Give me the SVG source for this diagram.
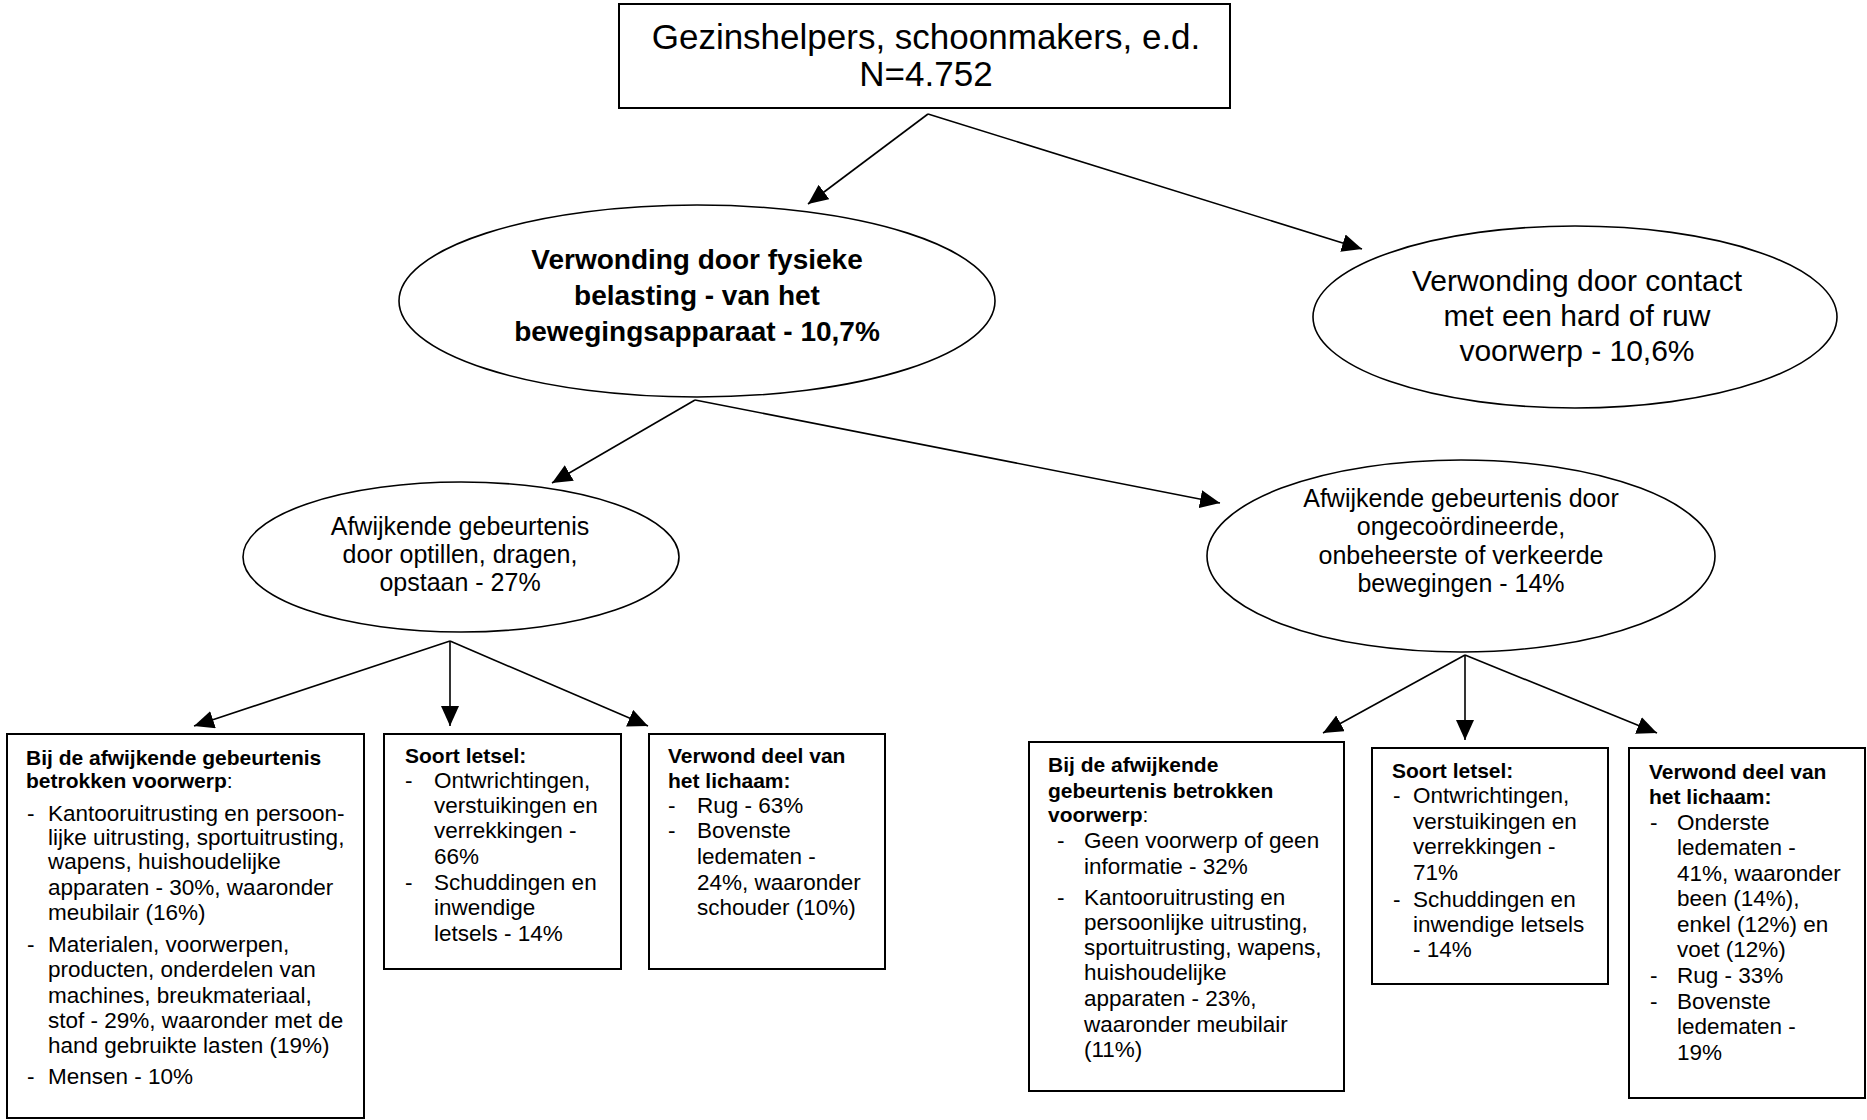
<svg xmlns="http://www.w3.org/2000/svg" width="1867" height="1120" viewBox="0 0 1867 1120">
<defs>
<marker id="ah" markerUnits="userSpaceOnUse" markerWidth="20" markerHeight="18" refX="20" refY="9" orient="auto">
<path d="M0,0 L20,9 L0,18 z" fill="#000"/>
</marker>
<style>
text{font-family:"Liberation Sans",Arial,sans-serif;fill:#000}
.box{fill:#fff;stroke:#000;stroke-width:2}
.ell{fill:#fff;stroke:#000;stroke-width:1.6}
.c{text-anchor:middle}
.t0{font-size:35px}
.t1{font-size:28px;font-weight:bold}
.t2{font-size:30px}
.t3{font-size:25px}
.h{font-size:21px;font-weight:bold}
.i{font-size:22.5px}
.n{font-weight:normal}
#edges line{stroke:#000;stroke-width:1.6;marker-end:url(#ah)}
</style>
</defs>
<rect width="1867" height="1120" fill="#fff"/>

<g id="edges">
<line x1="928" y1="114" x2="808" y2="204"/>
<line x1="928" y1="114" x2="1362" y2="249"/>
<line x1="695" y1="400" x2="552" y2="483"/>
<line x1="695" y1="400" x2="1220" y2="503"/>
<line x1="450" y1="641" x2="194" y2="726"/>
<line x1="450" y1="641" x2="450" y2="726"/>
<line x1="450" y1="641" x2="648" y2="726"/>
<line x1="1465" y1="655" x2="1323" y2="733"/>
<line x1="1465" y1="655" x2="1465" y2="740"/>
<line x1="1465" y1="655" x2="1657" y2="733"/>
</g>

<g id="root">
<rect class="box" x="619" y="4" width="611" height="104"/>
<text class="t0 c" x="926" y="49">Gezinshelpers, schoonmakers, e.d.</text>
<text class="t0 c" x="926" y="86">N=4.752</text>
</g>

<g id="fysiek">
<ellipse class="ell" cx="697" cy="301" rx="298" ry="96"/>
<text class="t1 c" x="697" y="269">Verwonding door fysieke</text>
<text class="t1 c" x="697" y="305">belasting - van het</text>
<text class="t1 c" x="697" y="341">bewegingsapparaat - 10,7%</text>
</g>

<g id="contact">
<ellipse class="ell" cx="1575" cy="317" rx="262" ry="91"/>
<text class="t2 c" x="1577" y="291">Verwonding door contact</text>
<text class="t2 c" x="1577" y="326">met een hard of ruw</text>
<text class="t2 c" x="1577" y="361">voorwerp - 10,6%</text>
</g>

<g id="optillen">
<ellipse class="ell" cx="461" cy="557" rx="218" ry="75"/>
<text class="t3 c" x="460" y="535">Afwijkende gebeurtenis</text>
<text class="t3 c" x="460" y="563">door optillen, dragen,</text>
<text class="t3 c" x="460" y="591">opstaan - 27%</text>
</g>

<g id="ongecoordineerd">
<ellipse class="ell" cx="1461" cy="556" rx="254" ry="96"/>
<text class="t3 c" x="1461" y="507">Afwijkende gebeurtenis door</text>
<text class="t3 c" x="1461" y="535">ongecoördineerde,</text>
<text class="t3 c" x="1461" y="564">onbeheerste of verkeerde</text>
<text class="t3 c" x="1461" y="592">bewegingen - 14%</text>
</g>

<g id="voorwerp1">
<rect class="box" x="7" y="734" width="357" height="384"/>
<text class="h" x="26" y="765">Bij de afwijkende gebeurtenis</text>
<text class="h" x="26" y="788">betrokken voorwerp<tspan class="n">:</tspan></text>
<text class="i" x="27" y="821">-</text>
<text class="i" x="48" y="821">Kantooruitrusting en persoon-</text>
<text class="i" x="48" y="845">lijke uitrusting, sportuitrusting,</text>
<text class="i" x="48" y="869">wapens, huishoudelijke</text>
<text class="i" x="48" y="895">apparaten - 30%, waaronder</text>
<text class="i" x="48" y="920">meubilair (16%)</text>
<text class="i" x="27" y="952">-</text>
<text class="i" x="48" y="952">Materialen, voorwerpen,</text>
<text class="i" x="48" y="977">producten, onderdelen van</text>
<text class="i" x="48" y="1003">machines, breukmateriaal,</text>
<text class="i" x="48" y="1028">stof - 29%, waaronder met de</text>
<text class="i" x="48" y="1053">hand gebruikte lasten (19%)</text>
<text class="i" x="27" y="1084">-</text>
<text class="i" x="48" y="1084">Mensen - 10%</text>
</g>

<g id="letsel1">
<rect class="box" x="384" y="734" width="237" height="235"/>
<text class="h" x="405" y="763">Soort letsel:</text>
<text class="i" x="405" y="788">-</text>
<text class="i" x="434" y="788">Ontwrichtingen,</text>
<text class="i" x="434" y="813">verstuikingen en</text>
<text class="i" x="434" y="838">verrekkingen -</text>
<text class="i" x="434" y="864">66%</text>
<text class="i" x="405" y="890">-</text>
<text class="i" x="434" y="890">Schuddingen en</text>
<text class="i" x="434" y="915">inwendige</text>
<text class="i" x="434" y="941">letsels - 14%</text>
</g>

<g id="deel1">
<rect class="box" x="649" y="734" width="236" height="235"/>
<text class="h" x="668" y="763">Verwond deel van</text>
<text class="h" x="668" y="788">het lichaam:</text>
<text class="i" x="668" y="813">-</text>
<text class="i" x="697" y="813">Rug - 63%</text>
<text class="i" x="668" y="838">-</text>
<text class="i" x="697" y="838">Bovenste</text>
<text class="i" x="697" y="864">ledematen -</text>
<text class="i" x="697" y="890">24%, waaronder</text>
<text class="i" x="697" y="915">schouder (10%)</text>
</g>

<g id="voorwerp2">
<rect class="box" x="1029" y="742" width="315" height="349"/>
<text class="h" x="1048" y="772">Bij de afwijkende</text>
<text class="h" x="1048" y="798">gebeurtenis betrokken</text>
<text class="h" x="1048" y="822">voorwerp<tspan class="n">:</tspan></text>
<text class="i" x="1057" y="848">-</text>
<text class="i" x="1084" y="848">Geen voorwerp of geen</text>
<text class="i" x="1084" y="874">informatie - 32%</text>
<text class="i" x="1057" y="905">-</text>
<text class="i" x="1084" y="905">Kantooruitrusting en</text>
<text class="i" x="1084" y="930">persoonlijke uitrusting,</text>
<text class="i" x="1084" y="955">sportuitrusting, wapens,</text>
<text class="i" x="1084" y="980">huishoudelijke</text>
<text class="i" x="1084" y="1006">apparaten - 23%,</text>
<text class="i" x="1084" y="1032">waaronder meubilair</text>
<text class="i" x="1084" y="1057">(11%)</text>
</g>

<g id="letsel2">
<rect class="box" x="1372" y="748" width="236" height="236"/>
<text class="h" x="1392" y="778">Soort letsel:</text>
<text class="i" x="1393" y="803">-</text>
<text class="i" x="1413" y="803">Ontwrichtingen,</text>
<text class="i" x="1413" y="829">verstuikingen en</text>
<text class="i" x="1413" y="854">verrekkingen -</text>
<text class="i" x="1413" y="880">71%</text>
<text class="i" x="1393" y="907">-</text>
<text class="i" x="1413" y="907">Schuddingen en</text>
<text class="i" x="1413" y="932">inwendige letsels</text>
<text class="i" x="1413" y="957">- 14%</text>
</g>

<g id="deel2">
<rect class="box" x="1629" y="748" width="236" height="350"/>
<text class="h" x="1649" y="779">Verwond deel van</text>
<text class="h" x="1649" y="804">het lichaam:</text>
<text class="i" x="1650" y="830">-</text>
<text class="i" x="1677" y="830">Onderste</text>
<text class="i" x="1677" y="855">ledematen -</text>
<text class="i" x="1677" y="881">41%, waaronder</text>
<text class="i" x="1677" y="906">been (14%),</text>
<text class="i" x="1677" y="932">enkel (12%) en</text>
<text class="i" x="1677" y="957">voet (12%)</text>
<text class="i" x="1650" y="983">-</text>
<text class="i" x="1677" y="983">Rug - 33%</text>
<text class="i" x="1650" y="1009">-</text>
<text class="i" x="1677" y="1009">Bovenste</text>
<text class="i" x="1677" y="1034">ledematen -</text>
<text class="i" x="1677" y="1060">19%</text>
</g>
</svg>
